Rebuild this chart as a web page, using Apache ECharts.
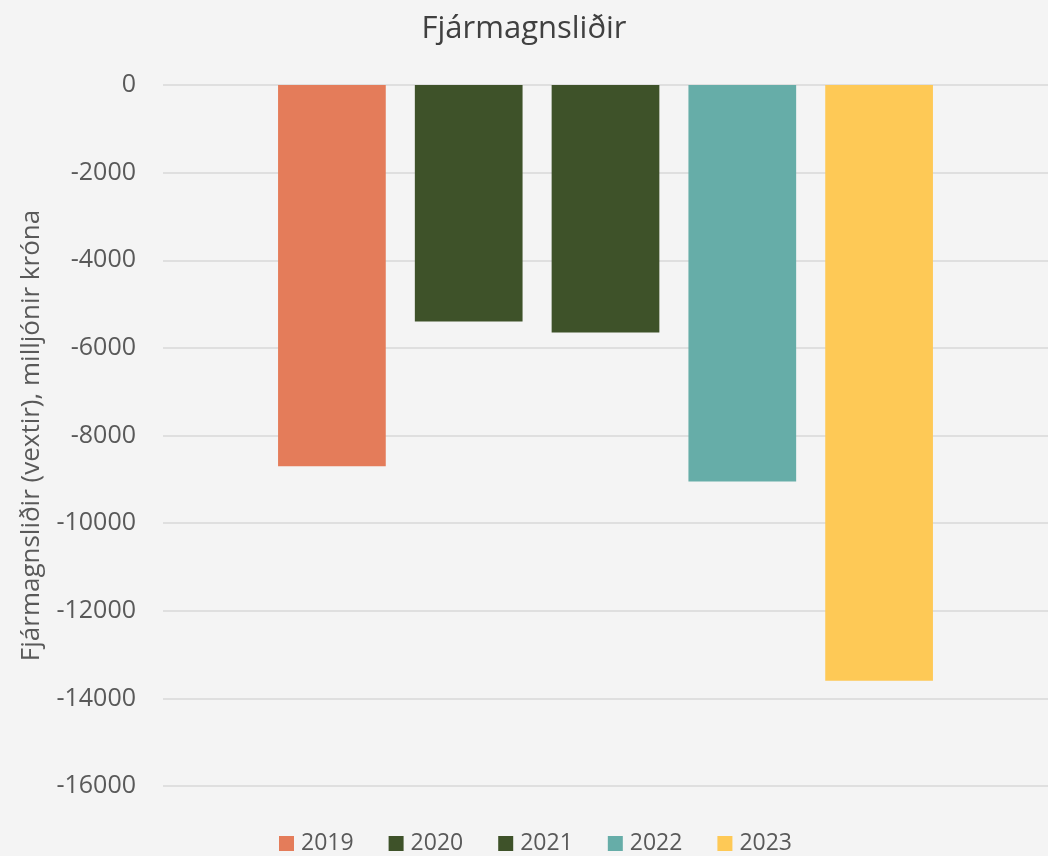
<!DOCTYPE html>
<html><head><meta charset="utf-8">
<script src="https://cdn.jsdelivr.net/npm/echarts@6/dist/echarts.min.js"></script>
<style>html,body{margin:0;padding:0;background:#f4f4f4}#c{width:1048px;height:856px}</style>
</head><body><div id="c"></div>
<script>
const categories = ['Fjármagnsliðir'];
const years = ['2019', '2020', '2021', '2022', '2023'];
const values = [-8700, -5400, -5650, -9050, -13600];
const colors = ['#E47C5A', '#3E5229', '#3E5229', '#66ADA8', '#FEC956'];
const yTicks = { min: -16000, max: 0, interval: 2000 };

const chart = echarts.init(document.getElementById('c'));
const font = '"Open Sans", "Liberation Sans", sans-serif';
chart.setOption({
  backgroundColor: '#f4f4f4',
  title: { text: 'Fjármagnsliðir', left: 'center', top: 9,
    textStyle: { fontFamily: font, fontSize: 31, fontWeight: 'normal', color: '#404040' } },
  legend: { bottom: -4, left: 274, itemWidth: 15, itemHeight: 15, itemGap: 35,
    icon: 'rect', textStyle: { fontFamily: font, fontSize: 23, color: '#595959', padding: [0, 0, 0, 2] } },
  grid: { left: 163, right: -4, top: 85, bottom: 70 },
  xAxis: { type: 'category', data: categories, show: false },
  yAxis: { type: 'value', min: yTicks.min, max: yTicks.max, interval: yTicks.interval,
    name: 'Fjármagnsliðir (vextir), milljónir króna', nameLocation: 'middle', nameGap: 118,
    nameTextStyle: { fontFamily: font, fontSize: 26, color: '#595959' },
    axisLine: { show: false }, axisTick: { show: false },
    axisLabel: { fontFamily: font, fontSize: 25, color: '#595959', margin: 27,
      formatter: v => String(v) },
    splitLine: { lineStyle: { color: '#d9d9d9', width: 1.5 } } },
  series: years.map((y, i) => ({
    name: y, type: 'bar', data: [values[i]], barGap: '27%', barCategoryGap: '26%',
    itemStyle: { color: colors[i] }
  }))
});
</script></body></html>
